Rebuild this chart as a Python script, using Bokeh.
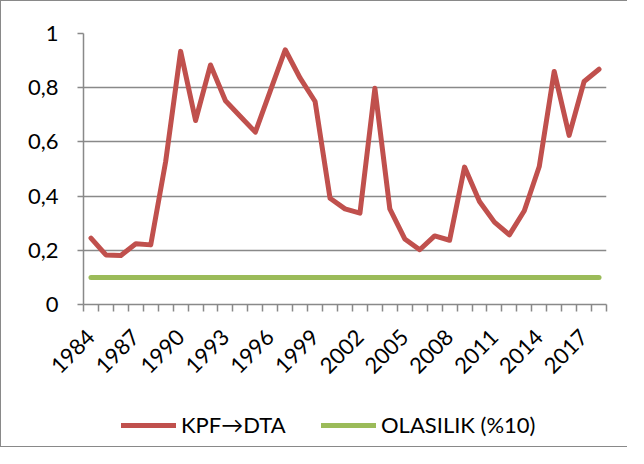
import math
from bokeh.plotting import figure
from bokeh.layouts import column
from bokeh.models import (Range1d, FixedTicker, CustomJSTickFormatter, Legend, LegendItem)
from bokeh.embed import file_html
from bokeh.resources import INLINE

years = list(range(1984, 2019))
kpf_dta = [0.245, 0.183, 0.181, 0.224, 0.220, 0.528, 0.934, 0.679, 0.884, 0.752,
           0.694, 0.636, 0.788, 0.940, 0.835, 0.749, 0.392, 0.353, 0.337, 0.798,
           0.353, 0.242, 0.202, 0.253, 0.237, 0.507, 0.380, 0.304, 0.257, 0.346,
           0.509, 0.860, 0.624, 0.823, 0.868]
olasilik = [0.1] * len(years)
x_tick_labels = [1984, 1987, 1990, 1993, 1996, 1999, 2002, 2005, 2008, 2011, 2014, 2017]
y_ticks = [0, 0.2, 0.4, 0.6, 0.8, 1.0]
series_labels = ["KPF\u2192DTA", "OLASILIK (%10)"]

FONT = "Lato"
GRAY = "#898989"
RED = "#C0504D"
GREEN = "#9BBB59"

p = figure(width=626, height=393, output_backend="svg", toolbar_location=None,
           x_range=Range1d(1983.5, 2018.5), y_range=Range1d(0, 1.0),
           min_border_left=82, min_border_top=32, min_border_right=21, min_border_bottom=90)
p.outline_line_color = None
p.background_fill_color = "white"
p.border_fill_color = "white"

r1 = p.line(years, kpf_dta, line_color=RED, line_width=5, line_cap="round", line_join="round")
r2 = p.line(years, olasilik, line_color=GREEN, line_width=5, line_cap="round", line_join="round")

# y axis
ya = p.yaxis[0]
ya.ticker = FixedTicker(ticks=y_ticks, minor_ticks=[])
ya.formatter = CustomJSTickFormatter(code="return (Math.round(tick*10)/10).toString().replace('.', ',');")
ya.axis_line_color = GRAY
ya.axis_line_width = 1.5
ya.major_tick_line_color = GRAY
ya.major_tick_line_width = 1.5
ya.major_tick_out = 6
ya.major_tick_in = 0
ya.minor_tick_line_color = None
ya.major_label_text_font = FONT
ya.major_label_text_font_size = "22px"
ya.major_label_text_color = "black"
ya.major_label_standoff = 19

# x axis
xa = p.xaxis[0]
xa.ticker = FixedTicker(ticks=x_tick_labels, minor_ticks=[y + 0.5 for y in range(1983, 2019)])
xa.axis_line_color = GRAY
xa.axis_line_width = 1.5
xa.major_tick_line_color = None
xa.major_tick_out = 0
xa.major_tick_in = 0
xa.minor_tick_line_color = GRAY
xa.minor_tick_line_width = 1.5
xa.minor_tick_out = 7
xa.minor_tick_in = 0
xa.major_label_orientation = math.pi / 4
xa.major_label_text_font = FONT
xa.major_label_text_font_size = "22px"
xa.major_label_text_color = "black"
xa.major_label_standoff = 22

p.xgrid.grid_line_color = None
p.ygrid.grid_line_color = GRAY
p.ygrid.grid_line_width = 1.5
p.ygrid.ticker = FixedTicker(ticks=y_ticks)

# legend strip below the chart (its frame is aligned with the chart's frame)
p2 = figure(width=626, height=52, output_backend="svg", toolbar_location=None,
            x_range=Range1d(0, 1), y_range=Range1d(0, 1),
            min_border_left=0, min_border_right=0, min_border_top=0, min_border_bottom=0)
p2.axis.visible = False
p2.grid.visible = False
p2.outline_line_color = None
p2.border_fill_color = "white"
l1 = p2.line([-10, -9], [-10, -9], line_color=RED, line_width=5, line_cap="round")
l2 = p2.line([-10, -9], [-10, -9], line_color=GREEN, line_width=5, line_cap="round")

def make_legend(label, renderer, x):
    lg = Legend(items=[LegendItem(label=label, renderers=[renderer])], location=(x, 8),
                padding=0, margin=0, spacing=0,
                glyph_width=55, glyph_height=20, label_standoff=5, label_height=20,
                border_line_color=None, background_fill_alpha=0,
                label_text_font=FONT, label_text_font_size="22px", label_text_color="black")
    p2.add_layout(lg, "center")

make_legend(series_labels[0], l1, 38)
make_legend(series_labels[1], l2, 238)

layout = column(p, p2, spacing=0,
                styles={"border-left": "1.5px solid #898989",
                        "border-top": "1.5px solid #898989",
                        "border-bottom": "1.5px solid #898989"})

open("out.html", "w").write(file_html(layout, INLINE))
